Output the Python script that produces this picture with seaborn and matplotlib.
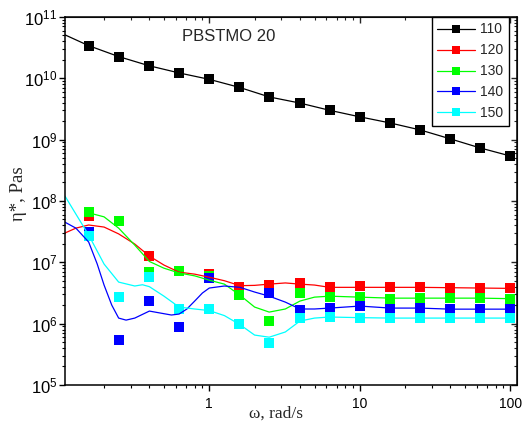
import matplotlib
matplotlib.use("Agg")
import matplotlib.pyplot as plt
import seaborn as sns
import numpy as np
from matplotlib.lines import Line2D
from matplotlib.ticker import LogLocator, NullFormatter

# measured points: angular frequency (rad/s) and complex viscosity (Pa s)
omega = [0.158, 0.251, 0.398, 0.631, 1.0, 1.585, 2.51, 3.98, 6.31, 10.0, 15.85, 25.1, 39.8, 63.1, 100.0]
eta_110 = [3.4e10, 2.25e10, 1.6e10, 1.22e10, 9.6e9, 7.1e9, 4.95e9, 3.95e9, 3.0e9, 2.35e9, 1.87e9, 1.44e9, 1.03e9, 7.3e8, 5.4e8]
eta_120 = [5.7e7, np.nan, 1.26e7, 7.2e6, 6.4e6, 3.9e6, 4.25e6, 4.6e6, 3.9e6, 4.05e6, 3.9e6, 3.9e6, 3.85e6, 3.8e6, 3.75e6]
eta_130 = [6.6e7, 4.7e7, 6.9e6, 7.1e6, 6.0e6, 2.9e6, 1.1e6, 3.15e6, 2.7e6, 2.7e6, 2.5e6, 2.6e6, 2.6e6, 2.6e6, 2.5e6]
eta_140 = [3.1e7, 5.4e5, 2.35e6, 8.8e5, 5.6e6, np.nan, 3.15e6, 1.66e6, 1.79e6, 1.93e6, 1.72e6, 1.79e6, 1.72e6, 1.72e6, 1.72e6]
eta_150 = [2.67e7, 2.7e6, 5.7e6, 1.72e6, 1.72e6, 9.8e5, 4.8e5, 1.23e6, 1.28e6, 1.23e6, 1.23e6, 1.25e6, 1.23e6, 1.23e6, 1.23e6]

# smoothed curves
fit_w_110 = [0.11, 0.158, 0.251, 0.398, 0.631, 1.0, 1.585, 2.51, 3.98, 6.31, 10.0, 15.85, 25.1, 39.8, 63.1, 100.0]
fit_110 = [5.1e10, 3.4e10, 2.25e10, 1.6e10, 1.22e10, 9.6e9, 7.1e9, 4.95e9, 3.95e9, 3.0e9, 2.35e9, 1.87e9, 1.44e9, 1.03e9, 7.3e8, 5.4e8]

fit_w_120 = [0.11, 0.13, 0.158, 0.2, 0.25, 0.32, 0.4, 0.5, 0.63, 0.8, 1.0, 1.26, 1.6, 2.0, 2.5, 3.2, 4.0, 5.0, 6.3, 10, 16, 25, 40, 63, 100]
fit_120 = [3.0e7, 3.6e7, 4.05e7, 3.75e7, 2.9e7, 1.98e7, 1.26e7, 9.0e6, 6.9e6, 6.4e6, 5.7e6, 5.0e6, 4.15e6, 4.2e6, 4.4e6, 4.6e6, 4.4e6, 4.25e6, 3.9e6, 3.9e6, 3.9e6, 3.9e6, 3.85e6, 3.8e6, 3.75e6]

fit_w_130 = [0.158, 0.2, 0.25, 0.32, 0.4, 0.5, 0.63, 0.8, 1.0, 1.26, 1.6, 2.0, 2.5, 3.2, 4.0, 5.0, 6.3, 10, 16, 25, 40, 63, 100]
fit_130 = [6.4e7, 5.5e7, 3.6e7, 1.9e7, 1.03e7, 8.0e6, 6.7e6, 6.0e6, 5.1e6, 4.4e6, 2.9e6, 1.86e6, 1.54e6, 1.73e6, 2.33e6, 2.7e6, 2.8e6, 2.7e6, 2.6e6, 2.6e6, 2.6e6, 2.6e6, 2.55e6]

fit_w_140 = [0.11, 0.13, 0.158, 0.18, 0.2, 0.225, 0.25, 0.28, 0.32, 0.4, 0.5, 0.56, 0.63, 0.71, 0.8, 0.9, 1.0, 1.26, 1.6, 2.0, 2.5, 3.2, 4.0, 5.0, 6.3, 10, 16, 25, 40, 63, 100]
fit_140 = [4.5e7, 3.6e7, 2.14e7, 9.4e6, 4.25e6, 2.0e6, 1.23e6, 1.14e6, 1.23e6, 1.6e6, 1.45e6, 1.38e6, 1.43e6, 1.73e6, 2.33e6, 3.15e6, 3.8e6, 4.1e6, 3.9e6, 3.27e6, 2.8e6, 2.24e6, 1.73e6, 1.73e6, 1.79e6, 1.93e6, 1.79e6, 1.79e6, 1.72e6, 1.72e6, 1.72e6]

fit_w_150 = [0.11, 0.13, 0.158, 0.2, 0.25, 0.32, 0.36, 0.4, 0.5, 0.63, 0.8, 1.0, 1.26, 1.6, 2.0, 2.5, 3.2, 4.0, 5.0, 6.3, 10, 16, 25, 40, 63, 100]
fit_150 = [1.2e8, 6.1e7, 2.78e7, 9.35e6, 4.75e6, 4.1e6, 4.3e6, 4.0e6, 2.8e6, 1.86e6, 1.73e6, 1.63e6, 1.35e6, 9.6e5, 6.5e5, 6.0e5, 7.3e5, 1.1e6, 1.23e6, 1.28e6, 1.25e6, 1.23e6, 1.23e6, 1.23e6, 1.23e6, 1.23e6]

labels = ["110", "120", "130", "140", "150"]
colors = ["#000000", "#ff0000", "#00ff00", "#0000ff", "#00ffff"]

sns.set_style("ticks")
plt.rcParams["font.family"] = ["Liberation Sans", "DejaVu Sans"]
plt.rcParams["mathtext.fontset"] = "custom"
plt.rcParams["mathtext.rm"] = "Liberation Sans"
plt.rcParams["mathtext.it"] = "Liberation Sans:italic"
plt.rcParams["mathtext.bf"] = "Liberation Sans:bold"

fig = plt.figure(figsize=(5.24, 4.23), dpi=100)
ax = fig.add_axes([0.124, 0.090, 0.863, 0.870])
ax.set_xscale("log")
ax.set_yscale("log")

fits = [(fit_w_110, fit_110), (fit_w_120, fit_120), (fit_w_130, fit_130),
        (fit_w_140, fit_140), (fit_w_150, fit_150)]
points = [eta_110, eta_120, eta_130, eta_140, eta_150]

for (fw, fe), c in zip(fits, colors):
    sns.lineplot(x=fw, y=fe, color=c, lw=0.9, ax=ax, legend=False)
for pe, c in zip(points, colors):
    sns.scatterplot(x=omega, y=pe, color=c, marker="s", s=42, linewidth=0, ax=ax, legend=False)

ax.set_xlim(0.11, 111)
ax.set_ylim(1e5, 1e11)

for s in ax.spines.values():
    s.set_linewidth(1.1)
    s.set_color("black")

ax.yaxis.set_major_locator(LogLocator(base=10, numticks=20))
ax.yaxis.set_minor_locator(LogLocator(base=10, subs=np.arange(2, 10), numticks=100))
ax.yaxis.set_minor_formatter(NullFormatter())
ax.xaxis.set_minor_locator(LogLocator(base=10, subs=np.arange(2, 10), numticks=100))
ax.xaxis.set_minor_formatter(NullFormatter())
ax.set_xticks([1, 10, 100])
ax.set_xticklabels(["1", "10", "100"])
ax.tick_params(which="major", direction="out", length=4.5, width=1.0, colors="black", pad=2)
ax.tick_params(which="minor", direction="out", length=2.5, width=0.8, colors="black")
ax.tick_params(axis="x", which="major", labelsize=10, pad=4)
ax.tick_params(axis="y", which="major", labelsize=12, pad=1)

# mirrored ticks on top and right, pointing inward
top = ax.secondary_xaxis("top")
top.xaxis.set_minor_locator(LogLocator(base=10, subs=np.arange(2, 10), numticks=100))
top.set_xticks([1, 10, 100])
top.tick_params(which="major", direction="in", length=4.5, width=1.0, labeltop=False)
top.tick_params(which="minor", direction="in", length=2.5, width=0.8, labeltop=False)
top.xaxis.set_minor_formatter(NullFormatter())
right = ax.secondary_yaxis("right")
right.yaxis.set_major_locator(LogLocator(base=10, numticks=20))
right.yaxis.set_minor_locator(LogLocator(base=10, subs=np.arange(2, 10), numticks=100))
right.tick_params(which="major", direction="in", length=4.5, width=1.0, labelright=False)
right.tick_params(which="minor", direction="in", length=2.5, width=0.8, labelright=False)
right.yaxis.set_minor_formatter(NullFormatter())

ax.set_xlabel("ω, rad/s", family=["Liberation Serif", "DejaVu Serif"], fontsize=12.5)
ax.xaxis.set_label_coords(0.467, -0.056)
ax.set_ylabel("η*, Pas", family=["Liberation Serif", "DejaVu Serif"], fontsize=13.5)
ax.yaxis.set_label_coords(-0.085, 0.52)

ax.text(0.259, 0.948, "PBSTMO 20", transform=ax.transAxes, fontsize=12, va="center", ha="left")

handles = [Line2D([], [], color=c, lw=0.9, marker="s", markersize=6.3, markeredgewidth=0)
           for c in colors]
leg = ax.legend(handles, labels, loc="upper right", bbox_to_anchor=(0.982, 1.0),
                borderaxespad=0, fontsize=10, frameon=True, fancybox=False,
                edgecolor="black", framealpha=1, handlelength=2.7, labelspacing=0.5,
                numpoints=1, handletextpad=0.4)
leg.get_frame().set_linewidth(1.0)

fig.savefig("out.png", dpi=100)
